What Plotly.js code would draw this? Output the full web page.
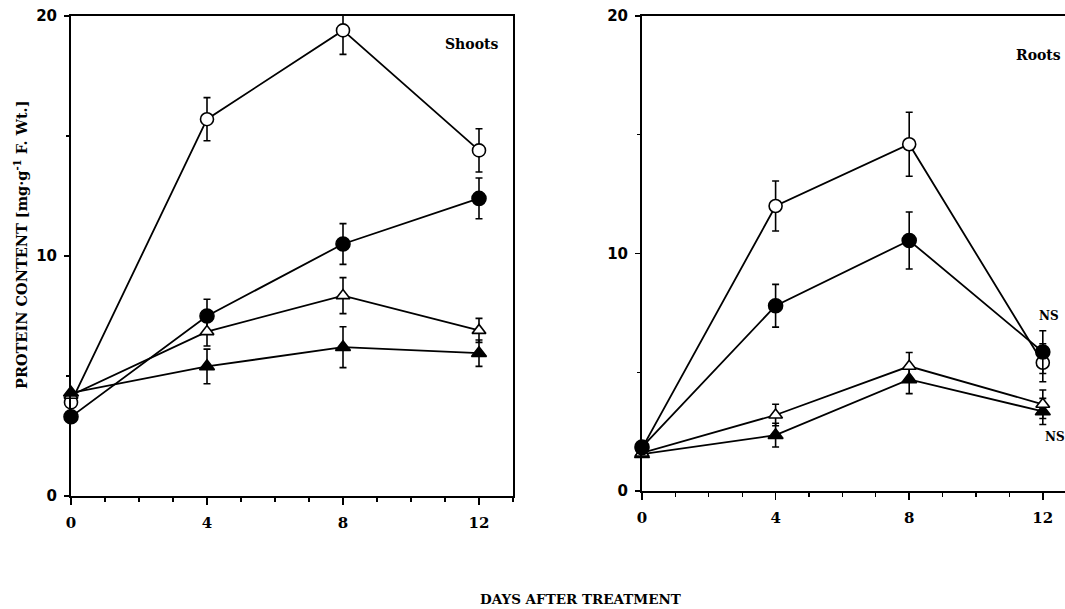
<!DOCTYPE html>
<html>
<head>
<meta charset="utf-8">
<script src="https://cdn.plot.ly/plotly-3.0.1.min.js"></script>
<style>
  html, body { margin: 0; padding: 0; background: #fff; }
  #chart { width: 1065px; height: 609px; }
</style>
</head>
<body>
<div id="chart"></div>
<script>
// Sampling days
const days = [0, 4, 8, 12];

// Shoots: protein content (mg g-1 F. Wt.) and error
const shootsOpenCircle   = [3.9, 15.7, 19.4, 14.4];
const shootsOpenCircleErr   = [0, 0.9, 1.0, 0.9];
const shootsFilledCircle = [3.3, 7.5, 10.5, 12.4];
const shootsFilledCircleErr = [0, 0.7, 0.85, 0.85];
const shootsOpenTri      = [4.2, 6.85, 8.35, 6.9];
const shootsOpenTriErr      = [0, 0.6, 0.75, 0.5];
const shootsFilledTri    = [4.3, 5.4, 6.2, 5.95];
const shootsFilledTriErr    = [0, 0.72, 0.85, 0.55];

// Roots: protein content (mg g-1 F. Wt.) and error
const rootsOpenCircle    = [1.8, 12.0, 14.6, 5.4];
const rootsOpenCircleErr    = [0, 1.05, 1.35, 0.8];
const rootsFilledCircle  = [1.85, 7.8, 10.55, 5.85];
const rootsFilledCircleErr  = [0, 0.9, 1.2, 0.9];
const rootsOpenTri       = [1.6, 3.2, 5.25, 3.65];
const rootsOpenTriErr       = [0, 0.45, 0.58, 0.6];
const rootsFilledTri     = [1.55, 2.35, 4.7, 3.35];
const rootsFilledTriErr     = [0, 0.5, 0.6, 0.55];

const W = 1065, H = 609;
const serif = 'DejaVu Serif, Liberation Serif, serif';
const sans = 'DejaVu Sans, Liberation Sans, sans-serif';

function series(y, err, symbol, filled, xa, ya, size) {
  return {
    x: days, y: y, xaxis: xa, yaxis: ya,
    type: 'scatter', mode: 'lines+markers', showlegend: false,
    line: { color: '#000', width: 1.8 },
    marker: {
      symbol: symbol, size: size,
      color: filled ? '#000' : '#fff',
      line: { color: '#000', width: 1.6 }
    },
    error_y: { type: 'data', array: err, visible: true, color: '#000', thickness: 1.6, width: 3.5 },
    cliponaxis: false
  };
}

const data = [
  series(shootsOpenCircle, shootsOpenCircleErr, 'circle', false, 'x', 'y', 13),
  series(shootsFilledCircle, shootsFilledCircleErr, 'circle', true, 'x', 'y', 14),
  series(shootsOpenTri, shootsOpenTriErr, 'triangle-up', false, 'x', 'y', 12),
  series(shootsFilledTri, shootsFilledTriErr, 'triangle-up', true, 'x', 'y', 13),
  series(rootsFilledTri, rootsFilledTriErr, 'triangle-up', true, 'x2', 'y2', 13),
  series(rootsOpenTri, rootsOpenTriErr, 'triangle-up', false, 'x2', 'y2', 12),
  series(rootsOpenCircle, rootsOpenCircleErr, 'circle', false, 'x2', 'y2', 13),
  series(rootsFilledCircle, rootsFilledCircleErr, 'circle', true, 'x2', 'y2', 14)
];

function xAxis(domain, range, anchor) {
  return {
    domain: domain, range: range, anchor: anchor,
    tickvals: [0, 4, 8, 12], ticks: 'outside', ticklen: 7, tickwidth: 1.5, tickcolor: '#000',
    minor: { dtick: 1, tick0: 0, ticks: 'outside', ticklen: 4, tickwidth: 1.2, tickcolor: '#000' },
    showline: true, linecolor: '#000', linewidth: 2, mirror: true,
    showgrid: false, zeroline: false,
    tickfont: { family: serif, size: 15, color: '#000', weight: 'bold' },
    ticklabelstandoff: 5
  };
}
function yAxis(domain, anchor, mirror) {
  return {
    domain: domain, range: [0, 20], anchor: anchor,
    tickvals: [0, 10, 20], ticks: 'outside', ticklen: 5, tickwidth: 1.5, tickcolor: '#000',
    minor: { tickvals: [5, 15], ticks: 'outside', ticklen: 3, tickwidth: 1.2, tickcolor: '#000' },
    showline: true, linecolor: '#000', linewidth: 2, mirror: mirror,
    showgrid: false, zeroline: false,
    tickfont: { family: sans, size: 15, color: '#000', weight: 'bold' },
    ticklabelstandoff: 4
  };
}

function label(text, px, py, size, extra) {
  return Object.assign({
    text: text, xref: 'paper', yref: 'paper', x: px / W, y: 1 - py / H,
    xanchor: 'center', yanchor: 'middle', showarrow: false,
    font: { family: serif, size: size, color: '#000', weight: 'bold' }
  }, extra || {});
}

const layout = {
  width: W, height: H,
  margin: { l: 0, r: 0, t: 0, b: 0, pad: 0 },
  paper_bgcolor: '#fff', plot_bgcolor: '#fff',
  xaxis:  xAxis([71 / W, 513 / W], [0, 13], 'y'),
  yaxis:  yAxis([1 - 496 / H, 1 - 16 / H], 'x', true),
  xaxis2: xAxis([642 / W, 1], [0, (W - 642) / 33.4], 'y2'),
  yaxis2: yAxis([1 - 491 / H, 1 - 16 / H], 'x2', false),
  annotations: [
    label('Shoots', 471, 44, 14),
    label('Roots', 1038, 55, 14),
    label('NS', 1049, 316, 12),
    label('NS', 1055, 437, 12),
    label('DAYS AFTER TREATMENT', 580, 599, 13.5),
    label('PROTEIN CONTENT [mg·g<sup>-1</sup> F. Wt.]', 20, 245, 14.5, { textangle: -90 })
  ]
};

Plotly.newPlot('chart', data, layout, { displayModeBar: false, staticPlot: true });
</script>
</body>
</html>
